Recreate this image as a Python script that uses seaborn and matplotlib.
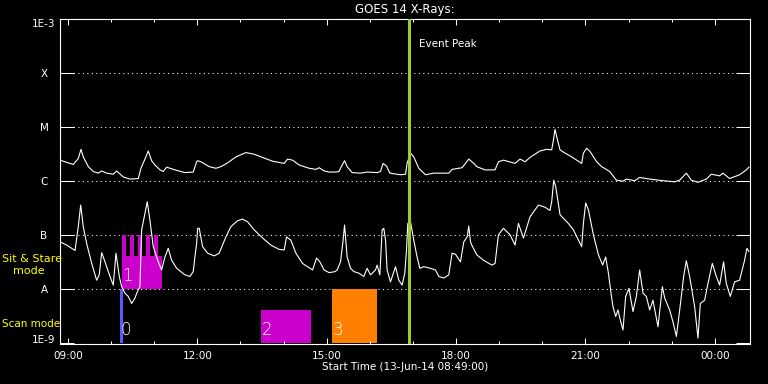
import datetime as dt
import numpy as np
import pandas as pd
import matplotlib
matplotlib.use("Agg")
import matplotlib.pyplot as plt
import matplotlib.dates as mdates
from matplotlib.ticker import NullLocator
import seaborn as sns

# ---------------- data ----------------
start = dt.datetime(2014, 6, 13, 8, 49)
span_minutes = 960

# GOES long channel (1-8 A): minutes after start, log10 flux
long_min = [0, 18.5, 25.4, 29.2, 32.4, 39.4, 46.3, 53.3, 58.0, 64.9, 74.1, 78.8, 88.0, 97.3,
            108.9, 112.6, 118.2, 122.8, 127.5, 132.1, 139.1, 143.6, 148.4, 153.0, 160.0, 173.8,
            185.4, 190.1,
            191.5, 196.1, 207.6, 216.9, 223.9, 233.2, 244.7, 258.6, 270.2, 281.9, 295.8, 311.9,
            316.6, 323.6, 332.7, 346.6, 356.0, 360.6, 367.5, 374.5, 383.8,
            388.0, 392.5, 395.9, 399.5, 406.4, 418.1, 427.3, 441.2, 445.9, 449.5, 454.3, 458.9,
            473.7, 480.7, 482.9, 487.7, 492.2, 499.2, 508.5, 520.0, 540.9, 545.5, 559.4, 564.1,
            568.7, 575.7,
            579.8, 591.4, 605.3, 610.0, 617.0, 633.1, 640.1, 647.0, 653.9, 667.8, 677.1, 684.1,
            686.5, 688.7, 691.1, 695.7, 702.7, 712.0, 725.8, 728.2, 732.8, 737.4, 746.7, 753.7,
            764.8, 774.1, 783.3, 787.9, 799.5, 806.5, 820.4, 838.9, 855.2, 862.2, 871.4, 878.4,
            887.6, 899.2, 906.2, 917.7, 922.3, 931.6, 945.5, 954.9, 958.5]
long_log = [-5.61, -5.69, -5.58, -5.41, -5.55, -5.73, -5.82, -5.85, -5.81, -5.85, -5.87, -5.81,
            -5.92, -5.96, -5.95, -5.76, -5.59, -5.44, -5.62, -5.70, -5.79, -5.82, -5.74, -5.76,
            -5.79, -5.84, -5.83, -5.64,
            -5.62, -5.64, -5.73, -5.76, -5.73, -5.66, -5.55, -5.47, -5.50, -5.56, -5.63, -5.67,
            -5.59, -5.61, -5.70, -5.76, -5.78, -5.75, -5.81, -5.83, -5.83,
            -5.82, -5.70, -5.62, -5.73, -5.84, -5.85, -5.83, -5.84, -5.82, -5.67, -5.72, -5.85,
            -5.88, -5.87, -5.67, -5.48, -5.55, -5.76, -5.88, -5.85, -5.85, -5.78, -5.75, -5.67,
            -5.59, -5.67,
            -5.73, -5.79, -5.79, -5.64, -5.61, -5.67, -5.59, -5.64, -5.56, -5.44, -5.41, -5.42,
            -5.24, -5.04, -5.18, -5.42, -5.48, -5.55, -5.67, -5.48, -5.39, -5.45, -5.64, -5.73,
            -5.82, -5.98, -6.00, -5.96, -5.99, -5.93, -5.96, -5.99, -6.01, -5.98, -5.85, -5.98,
            -6.02, -5.96, -5.87, -5.90, -5.85, -5.95, -5.88, -5.79, -5.74]

# GOES short channel (0.5-4 A)
short_min = [0, 9.3, 16.3, 20.9, 25.4, 28.8, 32.4, 37.1, 44.1, 51.0, 54.6, 58.0, 62.6, 69.5,
             74.1, 77.9, 82.5, 85.8, 90.4, 95.0, 99.7, 104.3, 106.7, 111.2, 113.6, 118.2, 121.4,
             125.1, 129.7, 136.7, 141.4, 146.0, 150.6, 155.3, 162.3, 173.8, 180.8, 185.4, 187.7,
             190.1,
             191.5, 193.7, 198.4, 205.4, 214.6, 221.5, 230.8, 237.7, 247.1, 254.0, 261.0, 270.2,
             281.9, 293.4, 304.9, 311.9, 315.2, 321.2, 328.2, 337.5, 344.4, 351.4, 356.9, 361.5,
             367.5, 374.5, 382.8,
             385.6, 390.3, 393.9, 395.9, 399.5, 404.2, 408.8, 415.8, 422.7, 427.3, 432.0, 439.0,
             441.2, 445.0, 448.2, 450.5, 452.9, 455.1, 459.8, 466.8, 471.4, 476.0, 479.7, 482.1,
             483.9, 487.7, 492.2, 496.8, 500.6, 506.1, 515.4, 522.4, 527.0, 534.0, 540.9, 545.5,
             550.3, 557.2, 561.8, 566.4, 568.7, 571.1,
             572.9, 579.8, 589.2, 600.7, 605.3, 610.0, 617.0, 626.2, 633.1, 637.8, 644.8, 653.9,
             665.6, 674.8, 681.7, 684.1, 686.9, 689.7, 695.7, 707.3, 714.3, 725.8, 728.2, 731.4,
             735.2, 742.1, 749.1, 755.0, 759.2, 763.0, 766.6,
             769.4, 773.1, 776.3, 779.6, 783.3, 787.0, 791.6, 797.2, 801.9, 806.5, 811.1, 815.8,
             820.4, 825.0, 832.0, 838.1, 841.3, 848.2, 852.8, 857.6, 862.2, 867.7, 871.4, 876.0,
             883.0, 887.6, 890.9, 896.9, 901.5, 907.6, 913.1, 917.7, 923.3, 927.0, 932.6, 938.6,
             945.5, 952.5, 955.7, 958.5]
short_log = [-7.12, -7.18, -7.24, -7.28, -6.84, -6.44, -6.84, -7.15, -7.52, -7.83, -7.73, -7.32,
             -7.49, -7.76, -7.92, -7.33, -7.76, -7.95, -8.07, -8.13, -8.26, -8.16, -8.07, -7.95,
             -6.90, -6.59, -6.38, -6.72, -7.21, -7.49, -7.64, -7.40, -7.24, -7.46, -7.61, -7.73,
             -7.76, -7.67, -7.40, -7.15,
             -6.87, -6.87, -7.21, -7.33, -7.38, -7.33, -7.03, -6.84, -6.73, -6.70, -6.75, -6.90,
             -7.05, -7.18, -7.26, -7.27, -7.03, -7.09, -7.33, -7.52, -7.58, -7.64, -7.42, -7.49,
             -7.64, -7.69, -7.67,
             -7.64, -7.49, -7.09, -6.81, -7.40, -7.61, -7.67, -7.70, -7.76, -7.61, -7.73, -7.64,
             -7.55, -7.73, -6.90, -6.87, -7.09, -7.64, -7.86, -7.58, -7.83, -7.92, -7.70, -7.27,
             -6.78, -6.75, -7.09, -7.40, -7.61, -7.58, -7.61, -7.64, -7.76, -7.79, -7.73, -7.33,
             -7.35, -7.49, -7.12, -7.03, -6.83, -7.12,
             -7.18, -7.36, -7.46, -7.55, -7.52, -6.99, -6.87, -6.99, -7.18, -6.78, -7.05, -6.66,
             -6.44, -6.48, -6.54, -6.38, -5.98, -6.10, -6.62, -6.78, -6.90, -7.21, -6.78, -6.40,
             -6.53, -6.99, -7.36, -7.55, -7.40, -7.70, -8.07,
             -8.32, -8.50, -8.38, -8.57, -8.75, -8.13, -7.98, -8.41, -8.13, -7.64, -8.07, -8.13,
             -8.38, -8.20, -8.69, -7.95, -8.16, -8.38, -8.60, -8.87, -8.38, -7.76, -7.47, -7.76,
             -8.32, -8.90, -8.26, -8.20, -7.89, -7.52, -7.76, -7.92, -7.49, -7.89, -8.13, -7.86,
             -7.83, -7.46, -7.24, -7.30]

# observing-mode blocks (minutes after start, log10 of bottom/top)
mode_start = [83.4, 86.2, 86.2, 97.3, 108.5, 119.6, 130.7, 279.5, 378.2]
mode_end = [87.2, 141.4, 92.5, 103.6, 114.7, 125.8, 135.9, 349.0, 440.4]
mode_low = [-9, -8, -8, -8, -8, -8, -8, -9, -9]
mode_high = [-8, -7.38, -7, -7, -7, -7, -7, -8.38, -8]
mode_colors = ["#5a5aff", "#cc00cc", "#cc00cc", "#cc00cc", "#cc00cc", "#cc00cc", "#cc00cc",
               "#cc00cc", "#ff8000"]
mode_labels = ["0", "1", "", "", "", "", "", "2", "3"]

event_min = 485.3

ytick_vals = [1e-9, 1e-8, 1e-7, 1e-6, 1e-5, 1e-4, 1e-3]
ytick_labels = ["1E-9", "A", "B", "C", "M", "X", "1E-3"]
grid_vals = [1e-8, 1e-7, 1e-6, 1e-5, 1e-4]

# ---------------- plot ----------------
plt.rcParams["font.family"] = ["DejaVu Sans"]


def t(m):
    return start + dt.timedelta(minutes=m)


fig = plt.figure(figsize=(7.68, 3.84), dpi=100, facecolor="black")
ax = fig.add_axes([60 / 768, 1 - 343.5 / 384, 690 / 768, 324.5 / 384])
ax.set_facecolor("black")

# mode blocks
for s, e, lo, hi, c, lab in zip(mode_start, mode_end, mode_low, mode_high, mode_colors, mode_labels):
    ax.bar(t(s), 10 ** hi - 10 ** lo, width=dt.timedelta(minutes=e - s), bottom=10 ** lo,
           align="edge", color=c, linewidth=0, zorder=1)
    if lab:
        ax.annotate(lab, xy=(t(s), 10 ** lo), xytext=(0.5, 3), textcoords="offset points",
                    ha="left", va="bottom", color="white", fontsize=12, fontweight="light",
                    zorder=5)

# dotted grid
for g in grid_vals:
    ax.axhline(g, color="white", lw=0.75, linestyle=(0, (1, 3.3)), zorder=0.5)

long_df = pd.DataFrame({"time": [t(m) for m in long_min], "flux": 10 ** np.array(long_log)})
short_df = pd.DataFrame({"time": [t(m) for m in short_min], "flux": 10 ** np.array(short_log)})
sns.lineplot(data=long_df, x="time", y="flux", ax=ax, color="white", lw=0.8,
             estimator=None, sort=False, legend=False, zorder=3)
sns.lineplot(data=short_df, x="time", y="flux", ax=ax, color="white", lw=0.8,
             estimator=None, sort=False, legend=False, zorder=3)

# event line
ax.axvline(t(event_min), color="#9acd32", lw=2.2, zorder=4)
ax.annotate("Event Peak", xy=(t(event_min), 1), xycoords=("data", "axes fraction"),
            xytext=(7.4, -19.9), textcoords="offset points", ha="left", va="baseline",
            color="white", fontsize=7.5)

ax.set_yscale("log")
ax.set_ylim(1e-9, 1e-3)
ax.set_xlim(t(0), t(span_minutes))

ax.set_yticks(ytick_vals, ytick_labels)
ax.yaxis.set_minor_locator(NullLocator())
ax.xaxis.set_major_locator(mdates.HourLocator(byhour=range(0, 24, 3)))
ax.xaxis.set_minor_locator(mdates.HourLocator())
ax.xaxis.set_major_formatter(mdates.DateFormatter("%H:%M"))

ax.tick_params(axis="y", which="major", direction="in", length=10, width=0.75, colors="white",
               left=True, right=True, pad=11.5, labelsize=7.5)
ax.tick_params(axis="x", which="major", direction="in", length=4.3, width=0.75, colors="white",
               top=True, bottom=True, pad=5.5, labelsize=7.5)
ax.tick_params(axis="x", which="minor", direction="in", length=2.2, width=0.75, colors="white",
               top=True, bottom=True)

labels = ax.get_yticklabels()
for lab in labels:
    lab.set_ha("center")
labels[0].set_va("baseline")
labels[-1].set_va("top")

for sp in ax.spines.values():
    sp.set_color("white")
    sp.set_linewidth(0.8)

ax.set_ylabel("")
ax.set_xlabel("Start Time (13-Jun-14 08:49:00)", color="white", fontsize=7.5)
ax.xaxis.set_label_coords(0.5, -0.058)
ax.set_title("GOES 14 X-Rays:", color="white", fontsize=8.5, pad=4.1)

fig.text(2 / 768, 1 - 259 / 384, "Sit & Stare", color="yellow", fontsize=8, ha="left", va="center")
fig.text(12.5 / 768, 1 - 270.7 / 384, "mode", color="yellow", fontsize=8, ha="left", va="center")
fig.text(2 / 768, 1 - 324 / 384, "Scan mode", color="yellow", fontsize=7.5, ha="left", va="center")

fig.savefig("out.png", dpi=100, facecolor="black")
